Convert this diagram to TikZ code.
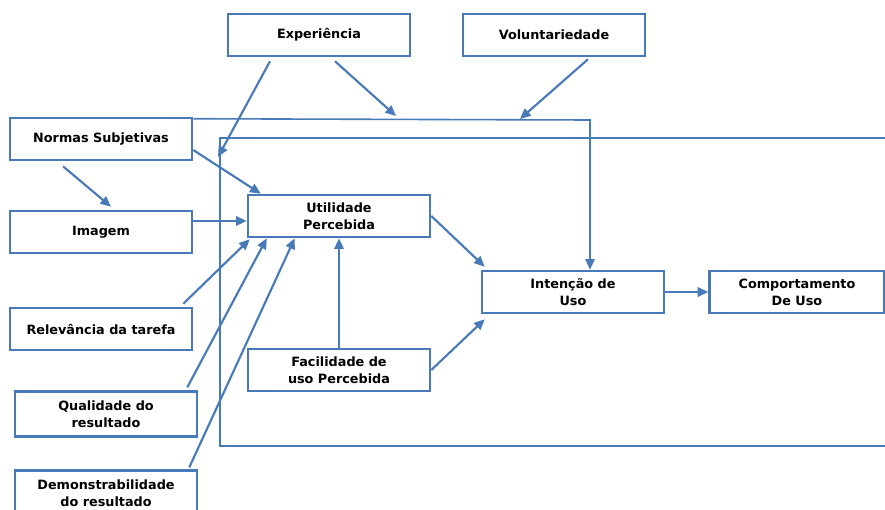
\documentclass[tikz,border=0pt]{standalone}
\usepackage{fontspec}
\setmainfont{DejaVu Sans}
\usetikzlibrary{calc}
\usetikzlibrary{arrows.meta}
\definecolor{azul}{RGB}{72,121,184}

\begin{document}
\begin{tikzpicture}[x=0.75pt,y=-0.75pt,>={Triangle[length=8pt,width=7pt]},
caixa/.style={rectangle,draw=azul,line width=1.9pt,fill=white,minimum width=136.5pt,minimum height=31.5pt,inner sep=2pt,align=center,font=\fontsize{9.6}{12.8}\selectfont\bfseries}]
\clip (0,0) rectangle (885,510);
% moldura dos moderadores
\draw[azul, line width=1.2pt] (890,138)--(220,138)--(220,446)--(890,446);
\node[caixa](exp) at (319,35){Experiência};
\node[caixa](vol) at (554,35){Voluntariedade};
\node[caixa](normas) at (101,139){Normas Subjetivas};
\node[caixa](imagem) at (101,232){Imagem};
\node[caixa](relev) at (101,329){Relevância da tarefa};
\node[caixa, minimum height=33.5pt](qual) at (106,414){Qualidade do\\resultado};
\node[caixa, minimum height=33.5pt](demo) at (106,493){Demonstrabilidade\\do resultado};
\node[caixa](util) at (339,216){Utilidade\\Percebida};
\node[caixa](facil) at (339,370){Facilidade de\\uso Percebida};
\node[caixa](intencao) at (573,292){Intenção de\\Uso};
\node[caixa, minimum width=131pt](comport) at (797,292){Comportamento\\De Uso};
\coordinate(moldura) at (218,157);
\coordinate(linhaA) at (396,116);
\coordinate(linhaB) at (520,119);
\coordinate(esquina) at (590,120);
\begin{scope}[->, azul, line width=1.6pt]
 \draw ($(exp.south)+(-49,4)$)--(moldura);
 \draw ($(exp.south)+(16,4)$)--(linhaA);
 \draw ($(vol.south)+(34,2)$)--(linhaB);
 \draw[line width=1.2pt] ($(normas.north east)+(0,2)$)--(esquina)--($(intencao.north)+(17,0)$);
 \draw ($(normas.east)+(0,11)$)--($(util.north west)+(14,0)$);
 \draw ($(normas.south)+(-38,5)$)--($(imagem.north)+(10,-3)$);
 \draw ($(imagem.east)+(0,-11)$)--($(util.west)+(0,5)$);
 \draw ($(relev.north east)+(-10,-3)$)--($(util.south west)+(3,1)$);
 \draw ($(qual.north east)+(-11,-3)$)--($(util.south west)+(20,0)$);
 \draw ($(demo.north east)+(-9,-2)$)--($(util.south west)+(48,0)$);
 \draw (facil.north)--(util.south);
 \draw (util.east)--($(intencao.north west)+(4,-3)$);
 \draw (facil.east)--($(intencao.south west)+(4,5)$);
 \draw (intencao.east)--(comport.west);
\end{scope}
\end{tikzpicture}
\end{document}
